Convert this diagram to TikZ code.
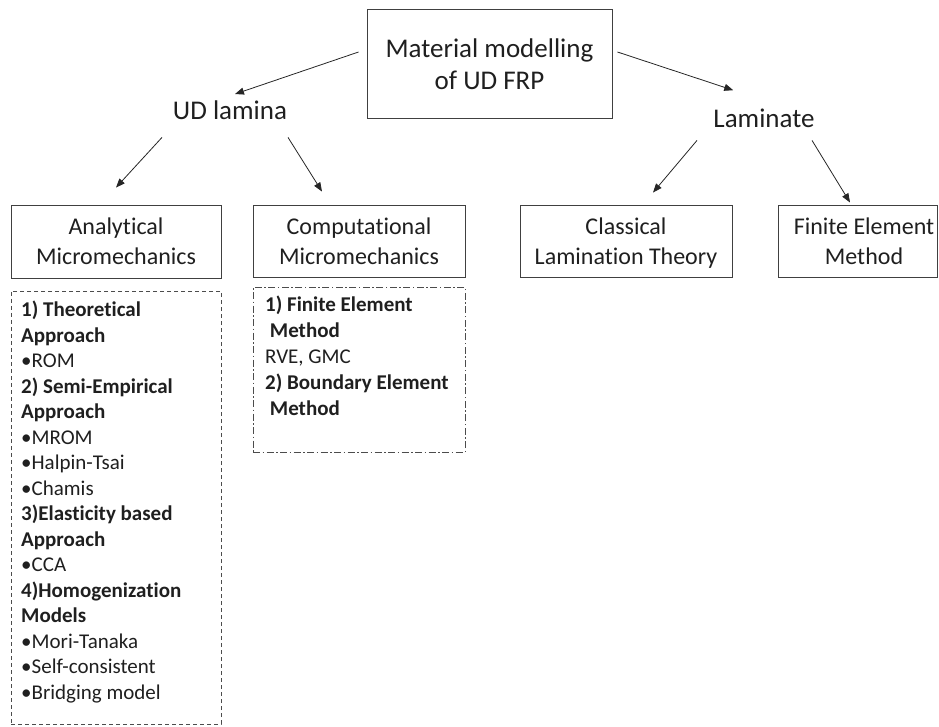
\documentclass[tikz,border=0pt]{standalone}
\usepackage{fontspec}
\setmainfont{Carlito}[Ligatures=NoCommon]
\usetikzlibrary{arrows.meta}
\begin{document}
\begin{tikzpicture}[x=1pt,y=-1pt,
 txt/.style={text=black!88, inner sep=0pt},
 big/.style={txt, font=\fontsize{27}{32.5}\selectfont, align=center},
 boxtxt/.style={txt, font=\fontsize{24}{30}\selectfont, align=center, text depth=0pt},
 box/.style={draw=black!75, line width=0.9pt},
 arr/.style={-{Triangle[length=9pt,width=7pt]}, line width=0.8pt, draw=black!85},
 lst/.style={txt, font=\fontsize{21}{25.5}\selectfont, align=left, anchor=north west},
 dbox/.style={draw=black!70, line width=0.8pt, dash pattern=on 4pt off 3pt, inner sep=0pt},
 ddbox/.style={draw=black!70, line width=0.8pt, dash pattern=on 7pt off 2.5pt on 1.5pt off 2.5pt, inner sep=0pt},
]
\useasboundingbox (0,0) rectangle (939,727);

% top
\node[big, box, minimum width=245pt, minimum height=109pt, text depth=0pt] (top) at (489.5,64) {Material modelling\\of UD FRP};
\node[big, anchor=base] (udl) at (230,119.5) {UD lamina};
\node[big, anchor=base] (lam) at (764,127.5) {Laminate};

% level boxes
\node[boxtxt, box, minimum width=210pt, minimum height=73pt] (ana) at (116,241.5) {Analytical\\Micromechanics};
\node[boxtxt, box, minimum width=212pt, minimum height=72pt] (comp) at (359,241) {Computational\\Micromechanics};
\node[boxtxt, box, minimum width=212pt, minimum height=72pt] (clt) at (626,241) {Classical\\Lamination Theory};
\node[box, minimum width=159pt, minimum height=72pt, inner sep=0pt] (femb) at (857.5,241) {};
\node[boxtxt] (fem) at (864,241) {Finite Element\\Method};

% dashed boxes
\node[dbox, minimum width=210pt, minimum height=433pt] (anabox) at (116,507.5) {};
\node[ddbox, minimum width=212pt, minimum height=165pt] (compbox) at (359,369.5) {};

\node[lst] (analist) at (21,301) {%
\textbf{1) Theoretical}\\
\textbf{Approach}\\
•ROM\\
\textbf{2) Semi-Empirical}\\
\textbf{Approach}\\
•MROM\\
•Halpin-Tsai\\
•Chamis\\
\textbf{3)Elasticity based}\\
\textbf{Approach}\\
•CCA\\
\textbf{4)Homogenization}\\
\textbf{Models}\\
•Mori-Tanaka\\
•Self-consistent\\
•Bridging model};

\node[lst, font=\fontsize{21}{26}\selectfont] (complist) at (265,296) {%
\textbf{1) Finite Element}\\
\textbf{\ Method}\\
RVE, GMC\\
\textbf{2) Boundary Element}\\
\textbf{\ Method}};

% arrows
\draw[arr] ([shift={(-8,-12)}]top.west) -- ([shift={(5,-6.5)}]udl.north);
\draw[arr] ([shift={(5,-12)}]top.east) -- ([shift={(20,-18.5)}]lam.north west);
\draw[arr] ([shift={(-68,17.5)}]udl.south) -- ([shift={(0,-17)}]ana.north);
\draw[arr] ([shift={(58,17.5)}]udl.south) -- ([shift={(-37,-13)}]comp.north);
\draw[arr] ([shift={(-67,12.5)}]lam.south) -- ([shift={(27,-12)}]clt.north);
\draw[arr] ([shift={(48,12.5)}]lam.south) -- ([shift={(-14,-15)}]fem.north);
\end{tikzpicture}
\end{document}
